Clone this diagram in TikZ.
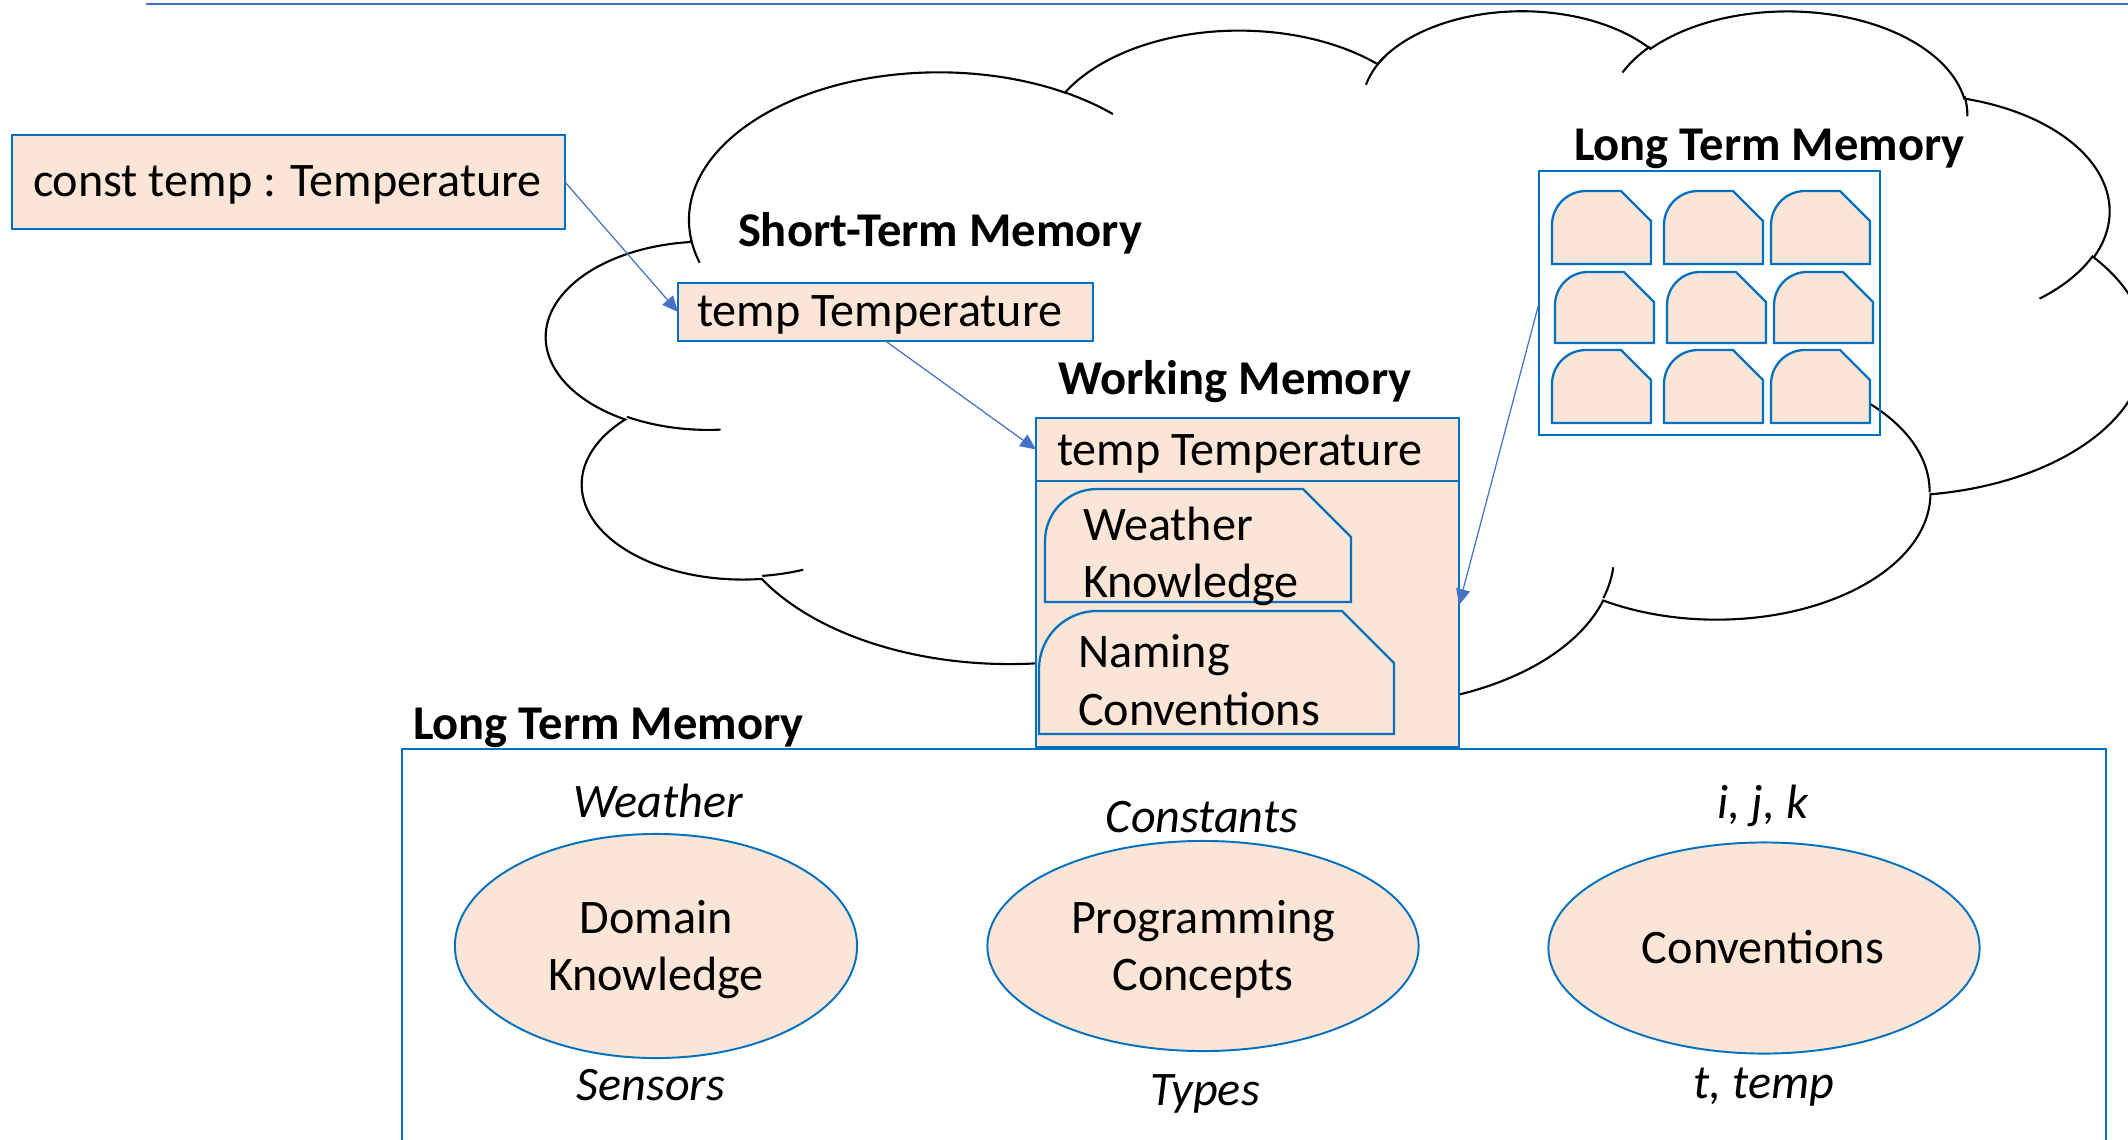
\documentclass[tikz,border=0pt]{standalone}
\usepackage{fontspec}
\setmainfont{Carlito}
\usetikzlibrary{arrows.meta,fit,shapes.geometric}
\definecolor{boxblue}{HTML}{0070C0}
\definecolor{arrowblue}{HTML}{4472C4}
\definecolor{peach}{HTML}{FBE5D6}
% OOXML arcTo (visual angles) -> TikZ parametric arc style
\newcommand\cldprep[5]{%
  \pgfmathsetmacro\cldtA{atan2((#2)*sin(#4),(#3)*cos(#4))}%
  \pgfmathsetmacro\cldtB{atan2((#2)*sin((#4)+(#5)),(#3)*cos((#4)+(#5)))}%
  \pgfmathsetmacro\cldtD{\cldtB-\cldtA}%
  \pgfmathsetmacro\cldtD{\cldtD+360*(\cldtD<0)}%
  \edef\cldtmp{\noexpand\tikzset{cld#1/.style={start angle=\cldtA, delta angle=\cldtD, x radius=#2, y radius=#3}}}%
  \cldtmp}
% round-top-left, snipped-top-right shape: L T R B r s
\newcommand\snipshape[6]{%
  \draw[cell] (#1,#4) -- (#1,#2+#5) arc[start angle=180,end angle=270,radius=#5] -- (#3-#6,#2) -- (#3,#2+#6) -- (#3,#4) -- cycle;}
\begin{document}
\begin{tikzpicture}[x=0.01cm, y=-0.01cm,
  every node/.style={inner sep=0pt, outer sep=0pt, font=\fontsize{13.7}{16.2}\selectfont},
  box/.style={draw=boxblue, line width=0.75pt, fill=peach},
  cell/.style={draw=boxblue, line width=0.65pt, fill=peach},
  cloudline/.style={draw=black, line width=0.6pt},
  arr/.style={draw=arrowblue, line width=0.35pt, -{Triangle[length=4.5pt,width=4pt]}},
  ell/.style={ellipse, draw=boxblue, line width=0.55pt, fill=peach},
  txt/.style={anchor=base west},
  ttl/.style={anchor=base west, font=\fontsize{13.8}{16.2}\selectfont\bfseries},
  itl/.style={anchor=base, font=\fontsize{13.7}{16.2}\selectfont\itshape},
]
\useasboundingbox (0,0) rectangle (2128,1140);

% top rule
\coordinate (tl1) at (146,4);
\coordinate (tl2) at (2128,4);
\draw[arrowblue, line width=0.4pt] (tl1) -- (tl2);

% cloud (PowerPoint cloud geometry)
\cldprep{a}{6753}{9190}{-190.4875}{123.7805}
\cldprep{b}{5333}{7267}{-144.1024}{89.9452}
\cldprep{c}{4365}{5945}{-145.8079}{99.7230}
\cldprep{d}{4857}{6595}{-130.9861}{117.2417}
\cldprep{e}{5333}{7273}{-78.7089}{109.0269}
\cldprep{f}{6775}{9220}{-46.2673}{130.2690}
\cldprep{g}{5785}{7867}{0.6250}{114.0333}
\cldprep{h}{6752}{9215}{22.4516}{115.1726}
\cldprep{i}{7720}{10543}{66.2426}{75.7110}
\cldprep{j}{4360}{5918}{-274.9421}{146.7356}
\cldprep{k}{4345}{5945}{-246.8285}{152.5189}
\cldprep{l}{4345}{5945}{86.7420}{26.4295}
\cldprep{m}{4360}{5918}{73.6105}{11.4475}
\cldprep{n}{6752}{9215}{137.6242}{14.0811}
\cldprep{o}{6752}{9215}{6.4533}{15.9984}
\cldprep{p}{5785}{7867}{-70.2924}{70.9174}
\cldprep{q}{5333}{7273}{30.3180}{27.7515}
\cldprep{r}{4857}{6595}{-13.7443}{14.8589}
\cldprep{s}{4857}{6595}{-149.1815}{18.1954}
\cldprep{t}{4365}{5945}{-163.4943}{22.0151}
\cldprep{u}{6753}{9190}{-66.7070}{12.3194}
\cldprep{v}{6753}{9190}{157.6544}{11.8582}
\begin{scope}[shift={(547,9)}, xscale=0.036991, yscale=0.016065]
\path[cloudline, fill=white] (3900,14370) arc[clda] arc[cldb] arc[cldc] arc[cldd] arc[clde] arc[cldf] arc[cldg] arc[cldh] arc[cldi] arc[cldj] arc[cldk] -- cycle;
\path[cloudline] (4693,26177) arc[cldl] (6928,34899) arc[cldm] (16478,39090) arc[cldn] (28827,34751) arc[cldo] (34129,22954) arc[cldp] (41798,15354) arc[cldq] (38324,5426) arc[cldr] (29078,3952) arc[clds] (22141,4720) arc[cldt] (14000,5192) arc[cldu] (4127,15789) arc[cldv];
\end{scope}

% source declaration
\node[box, fit={(12,135)(565,229)}] (ct) {};
\node[txt] (cttxt) at (33,197) {const temp : Temperature};

% short-term memory
\node[ttl] (stmlbl) at (738,247) {Short-Term Memory};
\node[box, fit={(678,283)(1093,341)}] (stm) {};
\node[txt] (stmtxt) at (697,327) {temp Temperature};

% working memory
\node[ttl] (wmlbl) at (1058,395) {Working Memory};
\node[box, fit={(1036,418)(1459,481)}] (wmhead) {};
\node[box, fit={(1036,481)(1459,747)}] (wmbody) {};
\node[txt] (wmtxt) at (1057,465) {temp Temperature};
\snipshape{1045}{489}{1351}{602}{52}{48}
\node[txt] (wk1) at (1083,540) {Weather};
\node[txt] (wk2) at (1083,597) {Knowledge};
\snipshape{1039}{611}{1394}{734}{58}{52}
\node[txt] (nc1) at (1078,667) {Naming};
\node[txt] (nc2) at (1078,725) {Conventions};

% long term memory (upper)
\node[ttl] (ltmlbl) at (1574,161) {Long Term Memory};
\node[draw=boxblue, line width=0.75pt, fit={(1539,171)(1880,435)}] (grid) {};
\snipshape{1552}{191}{1651}{264}{34}{30}
\snipshape{1664}{191}{1763}{264}{34}{30}
\snipshape{1771}{191}{1870}{264}{34}{30}
\snipshape{1555}{272}{1654}{343}{33}{30}
\snipshape{1667}{272}{1766}{343}{33}{30}
\snipshape{1774}{272}{1873}{343}{33}{30}
\snipshape{1552}{350}{1651}{423}{34}{30}
\snipshape{1664}{350}{1763}{423}{34}{30}
\snipshape{1771}{350}{1870}{423}{34}{30}

% arrows
\draw[arr] (ct.east) -- (stm.west);
\draw[arr] (stm.south) -- (wmhead.west);
\draw[arr] (grid.west) -- ([yshift=0.09cm]wmbody.east);

% long term memory (lower)
\node[ttl] (ltmlbl2) at (413,739) {Long Term Memory};
\coordinate (lb1) at (402,1141);
\coordinate (lb2) at (402,749);
\coordinate (lb3) at (2106,749);
\coordinate (lb4) at (2106,1141);
\draw[boxblue, line width=0.75pt] (lb1) -- (lb2) -- (lb3) -- (lb4);

\node[ell, minimum width=4.02cm, minimum height=2.24cm] (dk) at (656,946) {};
\node[ell, minimum width=4.31cm, minimum height=2.10cm] (pc) at (1203,946) {};
\node[ell, minimum width=4.31cm, minimum height=2.11cm] (cv) at (1764,948) {};
\node[anchor=base] (dk1) at (656,933) {Domain};
\node[anchor=base] (dk2) at (656,990) {Knowledge};
\node[anchor=base] (pc1) at (1203,933) {Programming};
\node[anchor=base] (pc2) at (1203,990) {Concepts};
\node[anchor=base] (cv1) at (1763,963) {Conventions};

\node[itl] (w1) at (658,817) {Weather};
\node[itl] (w2) at (651,1100) {Sensors};
\node[itl] (p1) at (1202,832) {Constants};
\node[itl] (p2) at (1205,1105) {Types};
\node[itl] (c1) at (1763,818) {i, j, k};
\node[itl] (c2) at (1764,1098) {t, temp};
\end{tikzpicture}
\end{document}
